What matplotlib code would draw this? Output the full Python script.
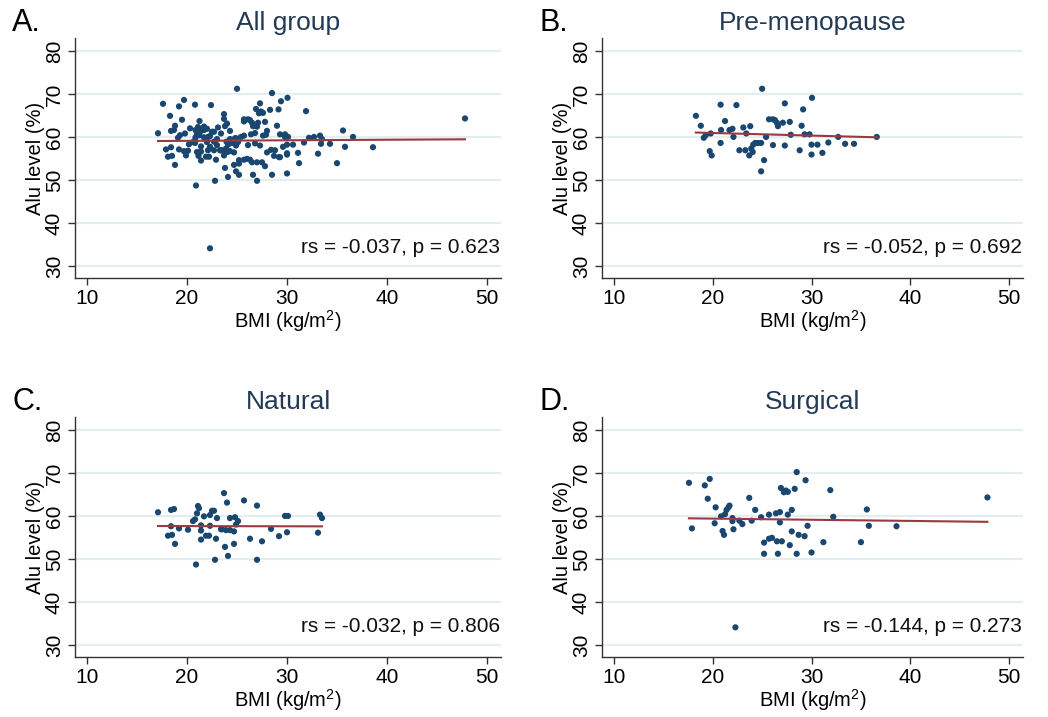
import numpy as np
import matplotlib.pyplot as plt

plt.rcParams['font.family'] = ['Liberation Sans', 'DejaVu Sans']
plt.rcParams['mathtext.fontset'] = 'custom'
plt.rcParams['mathtext.rm'] = 'Liberation Sans'

# pre-menopause group (BMI, Alu %)
pre_bmi = [18.3, 18.8, 19.1, 19.3, 19.8, 19.7, 19.9, 20.8, 20.85, 20.8, 21.25, 21.7, 22.0, 22.1,
           22.4, 22.7, 23.1, 23.4, 23.3, 23.7, 23.8, 23.9, 24.05, 24.1, 24.3, 24.6, 24.9, 25.0,
           24.9, 25.2, 25.4, 25.7, 26.1, 26.3, 26.1, 26.6, 26.5, 27.1, 27.3, 27.3, 27.8, 27.9,
           28.8, 29.0, 29.15, 29.3, 29.8, 30.05, 30.0, 30.0, 30.6, 31.1, 31.7, 32.7, 33.4, 34.3, 36.6]
pre_alu = [64.9, 62.6, 59.8, 60.4, 60.8, 56.7, 55.7, 67.5, 61.6, 58.6, 63.7, 61.6, 61.9, 60.0,
           67.4, 56.9, 62.2, 60.8, 56.9, 55.7, 62.5, 57.3, 56.5, 58.2, 58.6, 58.6, 58.6, 71.2,
           52.0, 54.6, 60.0, 64.1, 64.1, 63.9, 58.1, 62.5, 63.3, 63.3, 67.8, 58.0, 63.5, 60.5,
           56.9, 62.6, 66.4, 60.6, 60.6, 69.1, 58.2, 55.9, 58.2, 56.3, 58.7, 60.0, 58.4, 58.4, 60.0]

# natural menopause group
nat_bmi = [17.1, 18.1, 18.5, 18.4, 18.4, 18.7, 18.8, 19.2, 20.1, 20.6, 20.8, 21.0, 21.1, 21.2,
           20.9, 21.4, 21.4, 21.4, 21.7, 21.9, 22.2, 22.3, 22.3, 22.5, 22.7, 22.8, 22.9, 23.0,
           23.4, 23.5, 23.7, 23.8, 24.0, 24.1, 23.9, 24.3, 24.3, 24.7, 24.7, 24.8, 24.9, 25.1,
           25.7, 26.3, 27.0, 27.0, 27.5, 28.4, 29.2, 29.8, 30.1, 30.0, 33.1, 33.3, 33.5]
nat_alu = [60.85, 55.4, 55.6, 57.6, 61.4, 61.6, 53.5, 57.1, 56.8, 58.8, 59.2, 60.6, 62.3, 61.8,
           48.7, 57.8, 56.6, 54.5, 59.9, 55.4, 55.4, 60.2, 57.7, 61.2, 61.2, 49.8, 54.7, 59.5,
           56.9, 56.9, 65.3, 52.8, 63.1, 50.7, 56.7, 59.5, 56.7, 53.5, 56.4, 59.7, 58.0, 58.8,
           63.6, 54.7, 62.4, 49.8, 54.1, 57.0, 55.3, 60.0, 60.0, 56.2, 56.1, 60.3, 59.5]

# surgical menopause group
sur_bmi = [17.6, 17.9, 19.2, 19.7, 19.5, 20.3, 20.2, 20.85, 21.0, 21.15, 21.25, 21.4, 21.6, 21.7,
           22.0, 22.0, 22.1, 22.7, 23.0, 22.3, 23.7, 23.95, 24.3, 24.9, 25.2, 25.2, 25.7, 25.7,
           26.0, 26.4, 26.5, 26.6, 26.8, 26.8, 26.9, 27.0, 27.2, 27.4, 27.6, 27.6, 27.8, 28.0,
           28.0, 28.3, 28.5, 28.5, 28.7, 29.3, 29.4, 29.6, 30.0, 31.2, 31.9, 32.2, 35.0, 35.6,
           35.8, 38.6, 47.8]
sur_alu = [67.7, 57.1, 67.1, 68.6, 64.0, 62.0, 58.3, 59.9, 56.5, 55.6, 60.4, 61.4, 62.0, 62.4,
           59.5, 58.8, 56.9, 58.9, 58.1, 34.1, 64.2, 58.9, 61.4, 59.7, 53.8, 51.2, 60.3, 54.7,
           54.9, 60.6, 54.1, 51.2, 60.9, 58.5, 66.5, 54.1, 65.5, 65.9, 65.6, 60.3, 53.2, 61.4,
           56.4, 66.3, 70.2, 51.2, 55.6, 55.3, 68.3, 57.7, 51.5, 53.9, 66.0, 59.8, 53.9, 61.5,
           57.7, 57.6, 64.3]

all_bmi = pre_bmi + nat_bmi + sur_bmi
all_alu = pre_alu + nat_alu + sur_alu

letters = ['A.', 'B.', 'C.', 'D.']
titles = ['All group', 'Pre-menopause', 'Natural', 'Surgical']
stats = ['rs = -0.037, p = 0.623', 'rs = -0.052, p = 0.692',
         'rs = -0.032, p = 0.806', 'rs = -0.144, p = 0.273']
groups = [(all_bmi, all_alu), (pre_bmi, pre_alu), (nat_bmi, nat_alu), (sur_bmi, sur_alu)]

navy = '#1a476f'
maroon = '#9a3a40'

fig = plt.figure(figsize=(10.48, 7.17), dpi=100)
W, H = 1048, 717
# left, top, right, bottom in pixels
boxes = [(75, 38, 501, 278), (602, 38, 1023, 278),
         (75, 417, 501, 657), (602, 417, 1023, 657)]

for i in range(4):
    l, t, r, b = boxes[i]
    ax = fig.add_axes([l / W, 1 - b / H, (r - l) / W, (b - t) / H])
    x, y = groups[i]
    x = np.array(x)
    y = np.array(y)

    for yy in [30, 40, 50, 60, 70, 80]:
        ax.axhline(yy, color='#e4eef1', lw=1.6, zorder=0)

    ax.scatter(x, y, s=20, color=navy, edgecolors='none', zorder=2)
    k, c = np.polyfit(x, y, 1)
    xs = np.array([x.min(), x.max()])
    ax.plot(xs, k * xs + c, color=maroon, lw=1.5, zorder=3)

    ax.set_xlim(8.8, 51.4)
    ax.set_ylim(27.2, 83.0)
    ax.set_xticks([10, 20, 30, 40, 50])
    ax.set_yticks([30, 40, 50, 60, 70, 80])
    ax.tick_params(axis='both', length=5, width=1, color='#333333', labelsize=15, pad=3)
    for lab in ax.get_yticklabels():
        lab.set_rotation(90)
        lab.set_va('center')
    for s in ['top', 'right']:
        ax.spines[s].set_visible(False)
    for s in ['left', 'bottom']:
        ax.spines[s].set_color('#333333')
        ax.spines[s].set_linewidth(1)

    ax.set_xlabel('BMI (kg/m$^2$)', fontsize=14.5, labelpad=0)
    ax.set_ylabel('Alu level (%)', fontsize=14.5, labelpad=0)
    ax.set_title(titles[i], fontsize=19, color='#233a57', pad=6)
    ax.text(51.3, 34.4, stats[i], ha='right', va='center', fontsize=15, color='#111111')

    fig.text((l - 63) / W, 1 - (t - 15) / H, letters[i], fontsize=22,
             ha='left', va='center', color='black')

fig.savefig('out.png', dpi=100, facecolor='white')
